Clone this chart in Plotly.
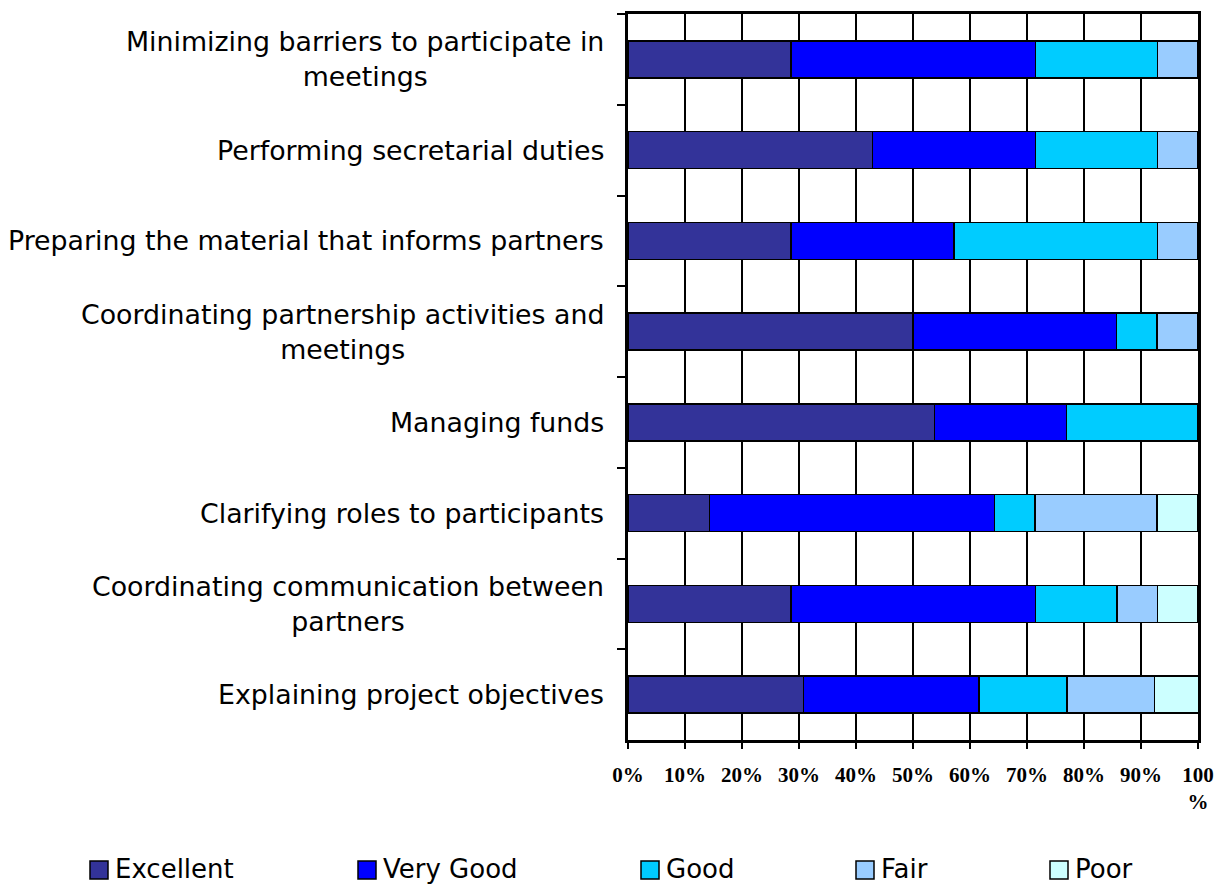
import plotly.graph_objects as go

categories = [
    "Minimizing barriers to participate in<br>meetings",
    "Performing secretarial duties",
    "Preparing the material that informs partners",
    "Coordinating partnership activities and<br>meetings",
    "Managing funds",
    "Clarifying roles to participants",
    "Coordinating communication between<br>partners",
    "Explaining project objectives",
]
series_names = ["Excellent", "Very Good", "Good", "Fair", "Poor"]
excellent = [28.6, 42.9, 28.6, 50.0, 53.8, 14.3, 28.6, 30.8]
very_good = [42.9, 28.6, 28.6, 35.7, 23.1, 50.0, 42.9, 30.8]
good      = [21.4, 21.4, 35.7, 7.1, 23.1, 7.1, 14.3, 15.4]
fair      = [7.1, 7.1, 7.1, 7.1, 0.0, 21.4, 7.1, 15.4]
poor      = [0.0, 0.0, 0.0, 0.0, 0.0, 7.1, 7.1, 7.7]
tick_vals = [0, 10, 20, 30, 40, 50, 60, 70, 80, 90, 100]
tick_text = ["0%", "10%", "20%", "30%", "40%", "50%", "60%", "70%", "80%", "90%", "100<br>%"]

colors = ["#333399", "#0000FF", "#00CCFF", "#99CCFF", "#CCFFFF"]
values = [excellent, very_good, good, fair, poor]

W, H = 1217, 884
L, R, T, B = 628, 1198, 14, 740

def px(x):
    return (x - L) / (R - L)

def py(y):
    return (B - y) / (B - T)

fig = go.Figure()
for name, vals, col in zip(series_names, values, colors):
    fig.add_trace(go.Bar(
        y=categories, x=vals, name=name, orientation="h",
        marker=dict(color=col, line=dict(color="black", width=1.5)),
        width=0.41, showlegend=False,
    ))

annotations = []
for c in categories:
    annotations.append(dict(
        x=0, xref="paper", y=c, yref="y", text=c, showarrow=False,
        xanchor="right", yanchor="middle", align="center", xshift=-22,
        font=dict(family="DejaVu Sans", size=26.8, color="black"),
    ))

shapes = []
legend_x = [90, 358, 641, 856, 1050]
for name, col, lx in zip(series_names, colors, legend_x):
    shapes.append(dict(
        type="rect", xref="paper", yref="paper",
        x0=px(lx), x1=px(lx + 18), y0=py(879), y1=py(861),
        fillcolor=col, line=dict(color="black", width=1.5),
    ))
    annotations.append(dict(
        x=px(lx + 23), xref="paper", y=py(869), yref="paper", text=name,
        showarrow=False, xanchor="left", yanchor="middle",
        font=dict(family="DejaVu Sans", size=26, color="black"),
    ))

fig.update_layout(
    template="none",
    barmode="stack",
    width=W, height=H, autosize=False,
    margin=dict(l=L, r=W - R, t=T, b=H - B, pad=0),
    plot_bgcolor="white", paper_bgcolor="white",
    bargap=0.59,
    annotations=annotations,
    shapes=shapes,
)
fig.update_xaxes(
    range=[0, 100], tickvals=tick_vals, ticktext=tick_text,
    showgrid=True, gridcolor="black", gridwidth=1.5,
    showline=True, linecolor="black", linewidth=2.5, mirror=True,
    ticks="outside", ticklen=6, tickcolor="black", tickwidth=1.5,
    ticklabelstandoff=8, automargin=False,
    tickfont=dict(family="Liberation Serif", size=21, color="black", weight="bold"),
    zeroline=False, fixedrange=True,
)
fig.update_yaxes(
    autorange="reversed", showticklabels=False, tickson="boundaries",
    ticks="outside", ticklen=8, tickcolor="black", tickwidth=1.5,
    showgrid=False, showline=True, linecolor="black", linewidth=2.5, mirror=True,
    fixedrange=True, automargin=False, zeroline=False,
)

fig.write_html("out.html", config={"displayModeBar": False},
               post_script="document.body.style.margin='0px';")
